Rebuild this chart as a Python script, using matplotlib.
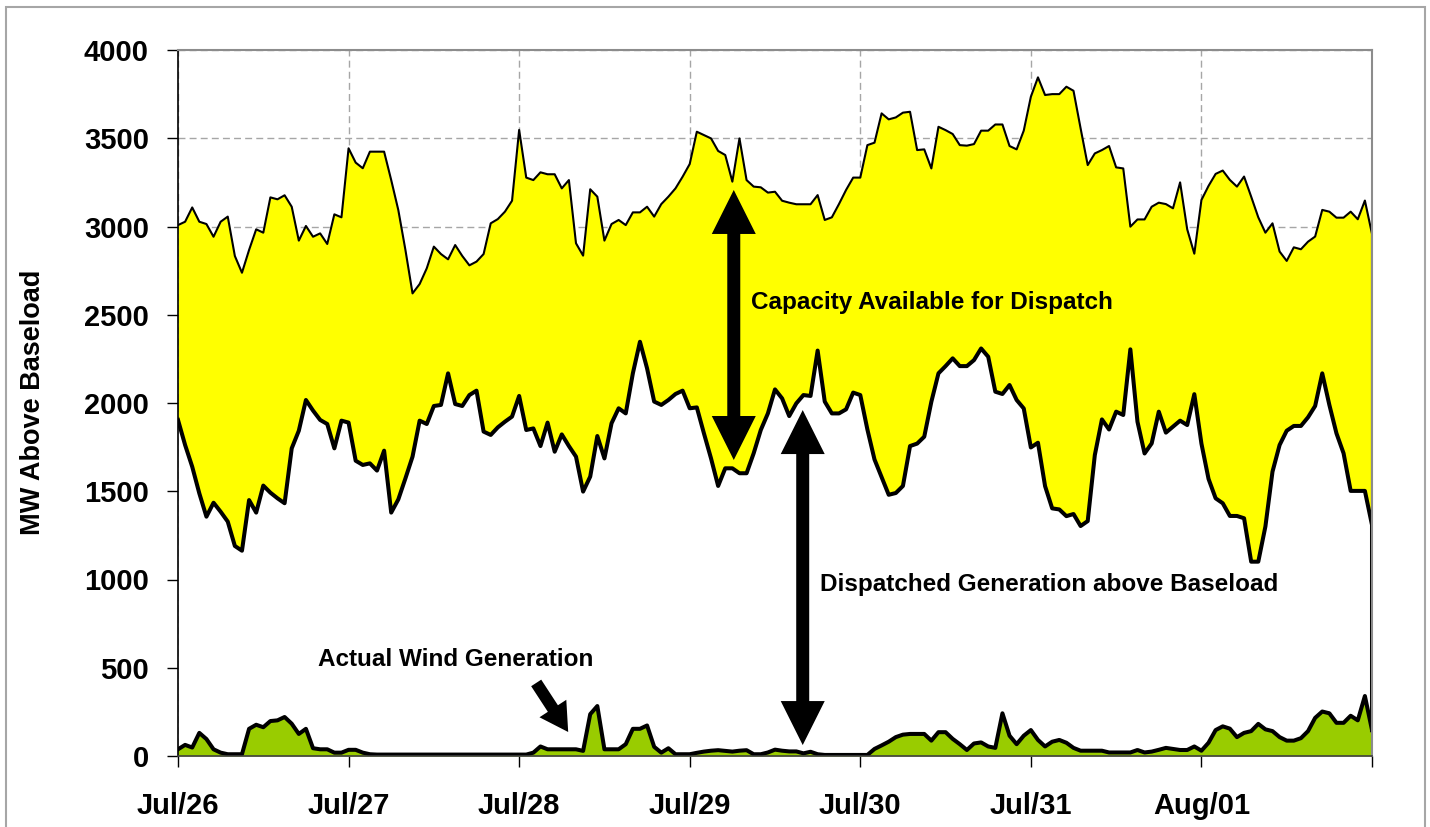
import numpy as np
import matplotlib
matplotlib.use('Agg')
import matplotlib.pyplot as plt
from matplotlib.patches import Rectangle, Polygon

# hourly values, Jul/26 00:00 .. Aug/02 00:00 (MW above baseload)
capacity = [3008, 3027, 3108, 3027, 3014, 2942, 3027, 3056, 2833, 2738, 2867, 2984,
            2965, 3165, 3154, 3177, 3112, 2920, 3003, 2942, 2961, 2901, 3069, 3052,
            3443, 3362, 3330, 3424, 3424, 3424, 3263, 3093, 2867, 2621, 2674, 2763,
            2886, 2844, 2814, 2895, 2833, 2780, 2801, 2844, 3018, 3042, 3084, 3146,
            3547, 3277, 3263, 3307, 3296, 3296, 3216, 3263, 2905, 2835, 3211, 3169,
            2920, 3014, 3037, 3008, 3080, 3080, 3112, 3056, 3127, 3169, 3216, 3282,
            3354, 3537, 3518, 3499, 3428, 3405, 3254, 3499, 3263, 3226, 3222, 3192,
            3197, 3146, 3135, 3126, 3126, 3126, 3178, 3037, 3052, 3127, 3207, 3277,
            3277, 3461, 3475, 3641, 3607, 3618, 3645, 3650, 3433, 3437, 3329, 3565,
            3546, 3524, 3461, 3458, 3467, 3543, 3543, 3578, 3578, 3456, 3437, 3543,
            3735, 3845, 3745, 3750, 3750, 3792, 3769, 3556, 3348, 3414, 3433, 3456,
            3335, 3329, 2999, 3040, 3040, 3112, 3135, 3127, 3103, 3250, 2984, 2846,
            3150, 3230, 3298, 3317, 3264, 3226, 3283, 3169, 3052, 2965, 3018, 2858,
            2805, 2882, 2871, 2914, 2943, 3094, 3084, 3050, 3050, 3084, 3041, 3147,
            2958]

dispatched = [1904, 1762, 1639, 1488, 1356, 1435, 1384, 1328, 1190, 1163, 1450, 1379,
              1532, 1492, 1460, 1432, 1743, 1843, 2017, 1957, 1904, 1881, 1743, 1900,
              1889, 1673, 1649, 1658, 1617, 1730, 1379, 1454, 1573, 1696, 1900, 1881,
              1983, 1989, 2168, 1994, 1983, 2045, 2070, 1838, 1819, 1862, 1894, 1923,
              2040, 1847, 1856, 1756, 1889, 1724, 1822, 1756, 1696, 1498, 1583, 1813,
              1686, 1885, 1970, 1941, 2168, 2347, 2196, 2008, 1989, 2017, 2051, 2070,
              1970, 1975, 1828, 1686, 1530, 1630, 1630, 1602, 1602, 1715, 1847, 1941,
              2077, 2026, 1926, 1998, 2045, 2040, 2297, 2008, 1941, 1941, 1964, 2059,
              2045, 1850, 1680, 1580, 1480, 1490, 1530, 1756, 1770, 1809, 2007, 2168,
              2209, 2253, 2209, 2209, 2243, 2309, 2262, 2064, 2051, 2102, 2017, 1969,
              1748, 1775, 1529, 1403, 1397, 1359, 1371, 1303, 1331, 1705, 1907, 1850,
              1951, 1932, 2304, 1894, 1714, 1771, 1951, 1832, 1866, 1900, 1875, 2050,
              1770, 1570, 1460, 1432, 1360, 1360, 1347, 1101, 1101, 1300, 1611, 1762,
              1843, 1870, 1870, 1919, 1983, 2168, 1989, 1828, 1715, 1502, 1502, 1502,
              1309]

wind = [38, 63, 48, 131, 96, 38, 19, 10, 10, 10, 154, 177,
        163, 198, 202, 221, 183, 125, 154, 44, 38, 38, 19, 19,
        35, 35, 19, 10, 8, 8, 8, 8, 8, 8, 8, 8,
        8, 8, 8, 8, 8, 8, 8, 8, 8, 8, 8, 8,
        8, 8, 19, 54, 38, 38, 38, 38, 38, 29, 237, 283,
        38, 38, 38, 67, 154, 154, 173, 52, 19, 44, 10, 10,
        10, 18, 25, 30, 33, 29, 25, 30, 33, 10, 10, 20,
        36, 30, 26, 26, 15, 24, 10, 6, 6, 6, 6, 6,
        6, 6, 40, 60, 81, 107, 121, 125, 125, 125, 87, 135,
        135, 97, 67, 34, 71, 77, 54, 46, 242, 115, 67, 115,
        147, 91, 54, 81, 91, 75, 46, 30, 30, 30, 30, 20,
        20, 20, 20, 34, 20, 25, 35, 46, 40, 34, 34, 54,
        30, 75, 147, 168, 155, 107, 131, 141, 182, 151, 141, 107,
        87, 87, 101, 141, 216, 252, 242, 188, 188, 228, 202, 340,
        147]

day_labels = ['Jul/26', 'Jul/27', 'Jul/28', 'Jul/29', 'Jul/30', 'Jul/31', 'Aug/01', '']

x = np.arange(len(capacity)) / 24.0

fig = plt.figure(figsize=(14.3, 8.27), dpi=100)
ax = fig.add_axes([178/1430, 1-756/827, (1372-178)/1430, (756-50)/827])

ax.fill_between(x, 0, wind, color='#99CC00', lw=0, zorder=2)
ax.fill_between(x, wind, dispatched, color='white', lw=0, zorder=2)
ax.fill_between(x, dispatched, capacity, color='#FFFF00', lw=0, zorder=2)

# close the stacked areas at the right edge like Excel does
ax.plot(np.r_[x, x[-1]], np.r_[capacity, dispatched[-1]], color='black', lw=1.5,
        solid_joinstyle='round', zorder=3)
ax.plot(np.r_[x, x[-1]], np.r_[dispatched, wind[-1]], color='black', lw=2.9,
        solid_joinstyle='round', zorder=4)
ax.plot(x, wind, color='black', lw=2.9, solid_joinstyle='round', zorder=4)

ax.set_xlim(0, 7)
ax.set_ylim(0, 4000)
ax.set_xticks(range(8))
ax.set_xticklabels(day_labels)
ax.set_yticks(range(0, 4001, 500))
ax.grid(True, color='#A6A6A6', lw=1, ls=(0, (5, 3)), zorder=0)
ax.set_axisbelow(True)

for lab in ax.get_xticklabels() + ax.get_yticklabels():
    lab.set_fontfamily('Liberation Sans')
    lab.set_fontweight('bold')
    lab.set_fontsize(21)
ax.tick_params(axis='y', direction='out', length=8, width=1, pad=13)
ax.tick_params(axis='x', direction='out', length=8, width=1, pad=18)

ax.spines['left'].set_color('black')
ax.spines['left'].set_linewidth(1.2)
ax.spines['bottom'].set_color('#404040')
ax.spines['bottom'].set_linewidth(1.2)
for s in ['top', 'right']:
    ax.spines[s].set_color('#8C8C8C')
    ax.spines[s].set_linewidth(1.5)
for s in ax.spines.values():
    s.set_zorder(5)

fig.text(33/1430, 1-402/827, 'MW Above Baseload', rotation=90, ha='center', va='center',
         fontsize=19.5, fontweight='bold', fontfamily='Liberation Sans')

# block arrows built in pixel space (axes is 1194 x 706 px)
PX = 7 / 1194.0
PY = 4000 / 706.0

def arrow_poly(tail, tip, tail_w, head_w, head_l, double=False):
    p0 = np.array([tail[0] / PX, tail[1] / PY])
    p1 = np.array([tip[0] / PX, tip[1] / PY])
    u = (p1 - p0) / np.hypot(*(p1 - p0))
    n = np.array([-u[1], u[0]])
    pts = []
    b1 = p1 - u * head_l
    pts += [b1 + n * tail_w / 2, b1 + n * head_w / 2, p1, b1 - n * head_w / 2, b1 - n * tail_w / 2]
    if double:
        b0 = p0 + u * head_l
        pts += [b0 - n * tail_w / 2, b0 - n * head_w / 2, p0, b0 + n * head_w / 2, b0 + n * tail_w / 2]
    else:
        pts += [p0 - n * tail_w / 2, p0 + n * tail_w / 2]
    pts = np.array(pts) * [PX, PY]
    ax.add_patch(Polygon(pts, closed=True, color='black', lw=0, zorder=6))

arrow_poly((78.2/24, 1677), (78.2/24, 3207), 13, 44, 44, double=True)
arrow_poly((87.9/24, 62), (87.9/24, 1960), 13, 44, 44, double=True)
arrow_poly((50.4/24, 414), (54.9/24, 136), 12, 32, 28)

tkw = dict(fontsize=17.5, fontweight='bold', fontfamily='Liberation Sans', va='center', zorder=7)
ax.text(80.6/24, 2567, 'Capacity Available for Dispatch', **tkw)
ax.text(90.4/24, 969, 'Dispatched Generation above Baseload', **tkw)
ax.text(19.7/24, 544, 'Actual Wind Generation', **tkw)

fig.add_artist(Rectangle((6/1430, -0.1), (1425-6)/1430, 1.1-7/827, transform=fig.transFigure,
                         fill=False, edgecolor='#A6A6A6', lw=1.5))

fig.savefig('out.png', dpi=100)
